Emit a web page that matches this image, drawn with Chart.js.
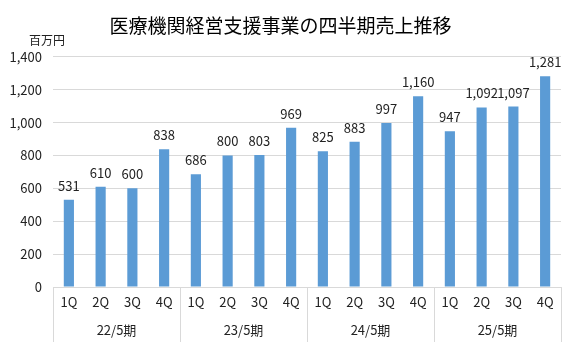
<!DOCTYPE html>
<html lang="ja">
<head>
<meta charset="utf-8">
<script src="https://cdn.jsdelivr.net/npm/chart.js@4.4.1/dist/chart.umd.min.js"></script>
<style>
  html, body { margin: 0; padding: 0; background: #fff; }
</style>
</head>
<body>
<canvas id="salesChart" width="580" height="348"></canvas>
<script>
const quarters = ['1Q', '2Q', '3Q', '4Q', '1Q', '2Q', '3Q', '4Q', '1Q', '2Q', '3Q', '4Q', '1Q', '2Q', '3Q', '4Q'];
const fiscalYears = ['22/5期', '23/5期', '24/5期', '25/5期'];
const sales = [531, 610, 600, 838, 686, 800, 803, 969, 825, 883, 997, 1160, 947, 1092, 1097, 1281];
const yMax = 1400;
const yStep = 200;

const fontFamily = "'Noto Sans CJK JP', 'Noto Sans', sans-serif";
const textColor = '#222';
const lineColor = '#d9d9d9';

// value above each bar
const valueLabels = {
  id: 'valueLabels',
  afterDatasetsDraw(chart) {
    const ctx = chart.ctx;
    const meta = chart.getDatasetMeta(0);
    ctx.save();
    ctx.font = '13px ' + fontFamily;
    ctx.fillStyle = textColor;
    ctx.textAlign = 'center';
    ctx.textBaseline = 'middle';
    meta.data.forEach((bar, i) => {
      ctx.fillText(sales[i].toLocaleString('en-US'), bar.x, bar.y - 14);
    });
    ctx.restore();
  }
};

// vertical dividers between fiscal years, plus the unit label
const axisDecor = {
  id: 'axisDecor',
  afterDraw(chart) {
    const ctx = chart.ctx;
    const x = chart.scales.x;
    const area = chart.chartArea;
    const bottom = chart.scales.x2.bottom;
    ctx.save();
    ctx.strokeStyle = lineColor;
    ctx.lineWidth = 1;
    const edges = [x.left];
    for (let g = 1; g < fiscalYears.length; g++) {
      const i = g * 4;
      edges.push((x.getPixelForValue(i - 1) + x.getPixelForValue(i)) / 2);
    }
    edges.push(x.right);
    ctx.beginPath();
    edges.forEach(px => {
      const p = Math.round(px) + 0.5;
      ctx.moveTo(p, area.bottom);
      ctx.lineTo(p, bottom);
    });
    ctx.stroke();

    ctx.font = '12px ' + fontFamily;
    ctx.fillStyle = textColor;
    ctx.textAlign = 'center';
    ctx.textBaseline = 'middle';
    ctx.fillText('百万円', 47, 40);
    ctx.restore();
  }
};

new Chart(document.getElementById('salesChart'), {
  type: 'bar',
  data: {
    labels: quarters,
    datasets: [{
      data: sales,
      backgroundColor: '#5b9bd5',
      borderWidth: 0,
      barPercentage: 0.32,
      categoryPercentage: 1
    }]
  },
  options: {
    responsive: false,
    animation: false,
    layout: { padding: { left: 0, right: 19, bottom: 6 } },
    plugins: {
      legend: { display: false },
      tooltip: { enabled: false },
      title: {
        display: true,
        text: '医療機関経営支援事業の四半期売上推移',
        color: '#000',
        font: { family: fontFamily, size: 19, weight: 'normal' },
        padding: { top: 14, bottom: 20 }
      }
    },
    scales: {
      y: {
        min: 0,
        max: yMax,
        ticks: {
          stepSize: yStep,
          color: textColor,
          padding: 11,
          font: { family: fontFamily, size: 13 },
          callback: v => v.toLocaleString('en-US')
        },
        grid: { color: lineColor, drawTicks: false },
        border: { display: false },
        afterFit(scale) { scale.width = 53; }
      },
      x: {
        ticks: {
          color: textColor,
          padding: 7,
          maxRotation: 0,
          autoSkip: false,
          font: { family: fontFamily, size: 13 }
        },
        grid: { display: false, drawTicks: false },
        border: { display: true, color: lineColor },
        afterFit(scale) { scale.height = 26; }
      },
      x2: {
        type: 'category',
        position: 'bottom',
        labels: fiscalYears,
        offset: true,
        ticks: {
          color: textColor,
          padding: 9,
          maxRotation: 0,
          font: { family: fontFamily, size: 13 }
        },
        grid: { display: false, drawTicks: false },
        border: { display: false },
        afterFit(scale) { scale.height = 29; }
      }
    }
  },
  plugins: [valueLabels, axisDecor]
});
</script>
</body>
</html>
